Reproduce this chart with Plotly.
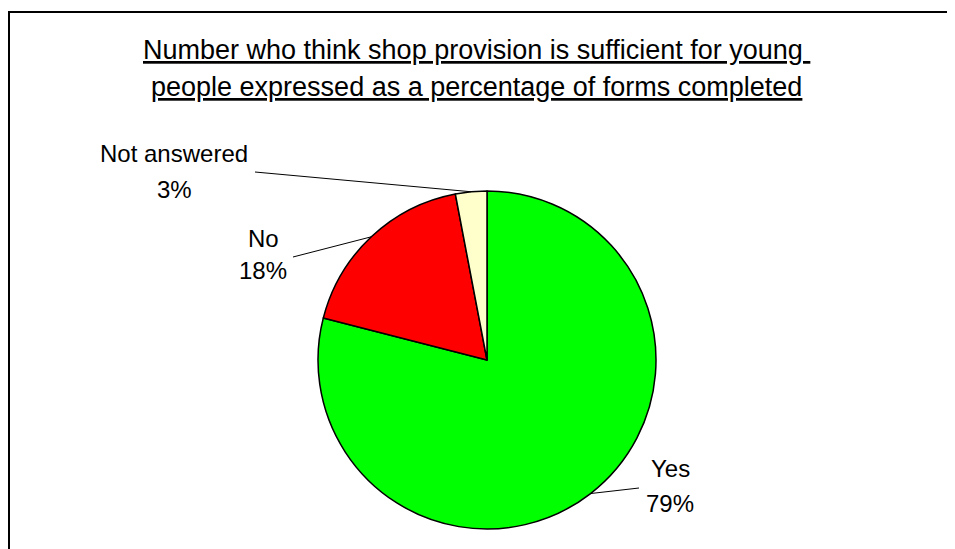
import math
import plotly.graph_objects as go

labels = ["Yes", "No", "Not answered"]
values = [79, 18, 3]
colors = ["#00FF00", "#FF0000", "#FFFFCC"]
title_lines = ["Number who think shop provision is sufficient for young ",
               "people expressed as a percentage of forms completed"]

W, H = 955, 549
OFF = 8  # page body margin offset (px)
cx, cy, r = 487 - OFF, 360 - OFF, 169  # pie centre / radius in figure px

# label placement in screen px: (x centre, name line y, pct line y, leader end x, leader end y)
label_pos = {
    "Yes": (670, 468, 503, 639, 488),
    "No": (263, 238, 271, 293, 257),
    "Not answered": (174, 154, 189, 255, 172),
}

fig = go.Figure()
fig.add_trace(go.Pie(
    labels=labels, values=values, sort=False, direction="clockwise", rotation=0,
    marker=dict(colors=colors, line=dict(color="black", width=1.5)),
    textinfo="none", hoverinfo="label+percent", showlegend=False,
    domain=dict(x=[(cx - r) / W, (cx + r) / W], y=[(H - cy - r) / H, (H - cy + r) / H]),
))

def px(x):
    return x / W

def py(y):
    return 1 - y / H

shapes = [dict(type="rect", xref="paper", yref="paper", x0=px(9 - OFF), x1=1.05, y0=-0.05, y1=py(12 - OFF),
               line=dict(color="black", width=2), fillcolor="rgba(0,0,0,0)")]
annotations = []
total = sum(values)
cum = 0
lab_font = dict(family="Liberation Sans, Arial, sans-serif", size=24, color="black")
for lab, v in zip(labels, values):
    mid = (cum + v / 2) / total * 2 * math.pi
    cum += v
    ex = cx + r * math.sin(mid)
    ey = cy - r * math.cos(mid)
    lx, ny, pyy, tx, ty = label_pos[lab]
    shapes.append(dict(type="line", xref="paper", yref="paper", x0=px(ex), y0=py(ey),
                       x1=px(tx - OFF), y1=py(ty - OFF), line=dict(color="black", width=1)))
    pct = round(v / total * 100)
    annotations.append(dict(text=lab, x=px(lx - OFF), y=py(ny - OFF), xref="paper", yref="paper",
                            showarrow=False, xanchor="center", yanchor="middle", font=lab_font))
    annotations.append(dict(text=f"{pct}%", x=px(lx - OFF), y=py(pyy - OFF), xref="paper", yref="paper",
                            showarrow=False, xanchor="center", yanchor="middle", font=lab_font))

title_font = dict(family="Liberation Sans, Arial, sans-serif", size=27, color="black")
for i, t in enumerate(title_lines):
    annotations.append(dict(text=f"<u>{t}</u>", x=px(476 - OFF), y=py(50 + 37 * i - OFF),
                            xref="paper", yref="paper", showarrow=False,
                            xanchor="center", yanchor="middle", font=title_font))

fig.update_layout(
    width=W, height=H, margin=dict(l=0, r=0, t=0, b=0),
    paper_bgcolor="white", plot_bgcolor="white",
    shapes=shapes, annotations=annotations,
)
fig.write_html("out.html")
